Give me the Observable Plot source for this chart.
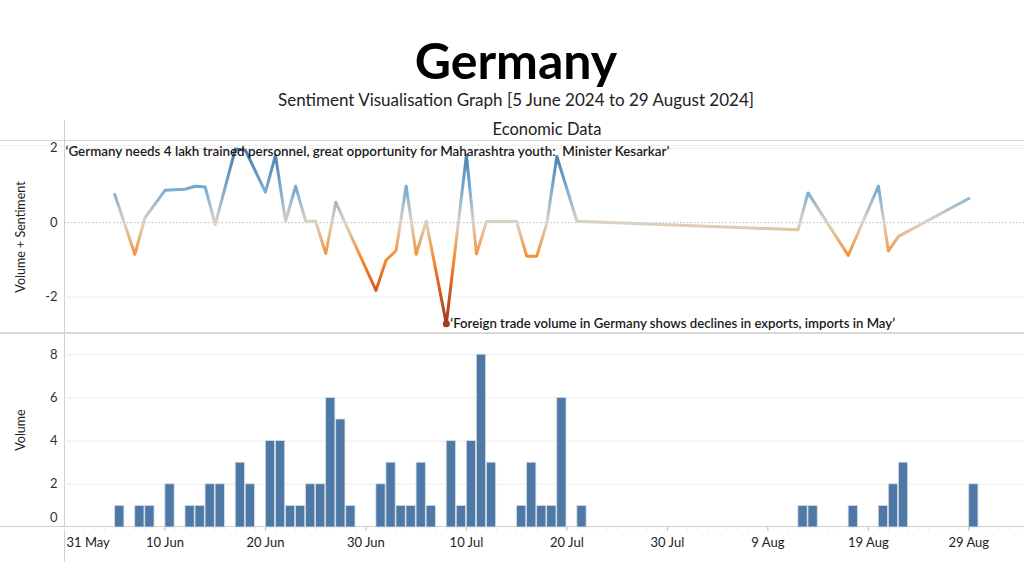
<!DOCTYPE html>
<html>
<head>
<meta charset="utf-8">
<script src="https://cdn.jsdelivr.net/npm/d3@7"></script>
<script src="https://cdn.jsdelivr.net/npm/@observablehq/plot@0.6"></script>
<style>
  html, body { margin: 0; padding: 0; background: #fff; }
  #root { position: relative; width: 1024px; height: 562px; overflow: hidden; font-family: Lato, "Noto Sans", sans-serif; color: #000; }
  .abs { position: absolute; }
  #title { left: 8px; width: 1016px; top: 30px; text-align: center; font-size: 50px; font-weight: 700; line-height: 60px; }
  #subtitle { left: 8px; width: 1016px; top: 90px; text-align: center; font-size: 17px; line-height: 20px; color: #222; }
  #header { left: 67px; width: 960px; top: 120px; text-align: center; font-size: 16.5px; line-height: 19px; color: #222; }
  .hline { position: absolute; left: 0; width: 1024px; background: #d9d9d9; }
  .vline { position: absolute; width: 1px; background: #d0d0d0; }
  .ylab { position: absolute; font-size: 12.5px; color: #222; white-space: nowrap; transform: translate(-50%, -50%) rotate(-90deg); }
  #topchart { left: 0; top: 140px; }
  #botchart { left: 0; top: 333px; }
  #topchart text.note { white-space: pre; }
</style>
</head>
<body>
<div id="root">
  <div id="title" class="abs">Germany</div>
  <div id="subtitle" class="abs">Sentiment Visualisation Graph [5 June 2024 to 29 August 2024]</div>
  <div id="header" class="abs">Economic Data</div>
  <div class="hline" style="top:140px;height:1px;"></div>
  <div class="hline" style="top:145px;height:1px;background:#f1f1f1;"></div>
  <div class="hline" style="top:332px;height:2px;"></div>
  <div class="hline" style="top:526px;height:1px;background:#cfcfcf;"></div>
  <div class="vline" style="left:64px;top:120px;height:442px;"></div>
  <div class="ylab" style="left:20px;top:237px;">Volume + Sentiment</div>
  <div class="ylab" style="left:20px;top:430px;">Volume</div>
  <div id="topchart" class="abs"></div>
  <div id="botchart" class="abs"></div>
</div>
<script>
// ---------------- data ----------------
const days = ["2024-06-05","2024-06-07","2024-06-08","2024-06-10","2024-06-12","2024-06-13","2024-06-14","2024-06-15",
  "2024-06-17","2024-06-18","2024-06-20","2024-06-21","2024-06-22","2024-06-23","2024-06-24","2024-06-25",
  "2024-06-26","2024-06-27","2024-06-28","2024-07-01","2024-07-02","2024-07-03","2024-07-04","2024-07-05",
  "2024-07-06","2024-07-08","2024-07-09","2024-07-10","2024-07-11","2024-07-12","2024-07-15","2024-07-16",
  "2024-07-17","2024-07-18","2024-07-19","2024-07-21","2024-08-12","2024-08-13","2024-08-17","2024-08-20",
  "2024-08-21","2024-08-22","2024-08-29"];
const volume = [1,1,1,2,1,1,2,2,
  3,2,4,4,1,1,2,2,
  6,5,1,2,3,1,1,3,
  1,4,1,4,8,3,1,3,
  1,1,6,1,1,1,1,1,
  2,3,2];
const sentiment = [0.76,-0.85,0.13,0.87,0.90,0.98,0.96,-0.05,
  1.98,1.95,0.82,1.81,0.03,0.98,0.04,0.04,
  -0.83,0.55,-0.05,-1.82,-1.01,-0.75,0.98,-0.85,
  0.04,-2.72,-0.45,1.81,-0.84,0.03,0.03,-0.90,
  -0.90,-0.02,1.78,0.04,-0.19,0.80,-0.88,0.98,
  -0.76,-0.37,0.65];
const xTickDays = ["2024-05-31","2024-06-10","2024-06-20","2024-06-30","2024-07-10","2024-07-20","2024-07-30","2024-08-09","2024-08-19","2024-08-29"];
const sentimentTicks = [-2, 0, 2];
const volumeTicks = [0, 2, 4, 6, 8];
const divergingColors = ["#9e3d22","#d45b21","#f69035","#dcd2c4","#77acd3","#4f81af","#2b5c8a"];
const divergingExtent = 2.7;
const noteTop = "\u2018Germany needs 4 lakh trained personnel, great opportunity for Maharashtra youth:  Minister Kesarkar\u2019";
const noteLow = "\u2018Foreign trade volume in Germany shows declines in exports, imports in May\u2019";
const noteLowDay = "2024-07-08";

// ---------------- build ----------------
const utc = s => new Date(s + "T00:00:00Z");
const rows = days.map((d, i) => ({
  date: utc(d),
  next: new Date(utc(d).getTime() + 864e5),
  volume: volume[i],
  sentiment: sentiment[i]
}));
const lowRow = rows.filter(r => r.date.getTime() === utc(noteLowDay).getTime());
const xDomain = [utc("2024-05-31"), new Date(utc("2024-09-03").getTime() + 13 * 3600e3)];
const xTicks = xTickDays.map(utc);
const minorTicks = d3.utcDay.range(xDomain[0], xDomain[1]);
const fmt = d3.utcFormat("%-d %b");
const numFmt = d => String(d);

const W = 1024;
const topH = 193;
const topDomain = [-2.98, 2.21];
const font = "Lato, 'Noto Sans', sans-serif";

const topPlot = Plot.plot({
  width: W, height: topH,
  marginLeft: 64, marginRight: 0, marginTop: 0, marginBottom: 0,
  x: { type: "utc", domain: xDomain, axis: null },
  y: { domain: topDomain, axis: null },
  style: { fontFamily: font, fontSize: "13px", color: "#333", background: "transparent", overflow: "visible" },
  marks: [
    Plot.ruleY([-2, 2], { stroke: "#ececec" }),
    Plot.ruleY([0], { stroke: "#b8b8b8", strokeDasharray: "1.5,2" }),
    Plot.axisY(sentimentTicks, { tickSize: 0, tickPadding: 7, label: null, fill: "#333", tickFormat: numFmt }),
    Plot.line(rows, { x: "date", y: "sentiment", stroke: "#888", strokeWidth: 3, strokeLinejoin: "round", strokeLinecap: "round" }),
    Plot.dot(lowRow, { x: "date", y: "sentiment", r: 3.5, fill: divergingColors[0], stroke: "none" }),
    Plot.text([noteTop], { frameAnchor: "top-left", text: d => d, dx: 1, dy: 11, lineAnchor: "middle", textAnchor: "start", fontSize: 13.4, fontWeight: 600, fill: "#1a1a1a" }),
    Plot.text(lowRow, { x: "date", y: "sentiment", text: () => noteLow, dx: 4, textAnchor: "start", lineAnchor: "middle", fontSize: 13.2, fontWeight: 600, fill: "#1a1a1a" })
  ]
});

// gradient along the value axis (colour by sentiment)
(function addGradient(svg) {
  const ns = "http://www.w3.org/2000/svg";
  const yPix = v => (topDomain[1] - v) / (topDomain[1] - topDomain[0]) * topH;
  const defs = document.createElementNS(ns, "defs");
  const lg = document.createElementNS(ns, "linearGradient");
  lg.setAttribute("id", "sentGrad");
  lg.setAttribute("gradientUnits", "userSpaceOnUse");
  lg.setAttribute("x1", 0); lg.setAttribute("x2", 0);
  lg.setAttribute("y1", yPix(divergingExtent));
  lg.setAttribute("y2", yPix(-divergingExtent));
  const stops = divergingColors.slice().reverse();
  stops.forEach((c, i) => {
    const s = document.createElementNS(ns, "stop");
    s.setAttribute("offset", (i / (stops.length - 1)).toFixed(4));
    s.setAttribute("stop-color", c);
    lg.appendChild(s);
  });
  defs.appendChild(lg);
  svg.insertBefore(defs, svg.firstChild);
  svg.querySelectorAll('g[aria-label="line"] path').forEach(p => p.setAttribute("stroke", "url(#sentGrad)"));
  svg.querySelectorAll('g[aria-label="text"] text').forEach(t => t.setAttribute("class", "note"));
})(topPlot);
document.getElementById("topchart").appendChild(topPlot);

const botH = 229;
const botPlot = Plot.plot({
  width: W, height: botH,
  marginLeft: 64, marginRight: 0, marginTop: 0, marginBottom: 35,
  x: { type: "utc", domain: xDomain, axis: null },
  y: { domain: [0, 8.98], axis: null },
  style: { fontFamily: font, fontSize: "13px", color: "#333", background: "transparent", overflow: "visible" },
  marks: [
    Plot.ruleY([2, 4, 6, 8], { stroke: "#ececec" }),
    Plot.rectY(rows, { x1: "date", x2: "next", y: "volume", fill: "#4e79a7", stroke: "#d5dce6", strokeWidth: 0.8, insetLeft: 0.4, insetRight: 0.4 }),
    Plot.axisY(volumeTicks.filter(t => t !== 0), { tickSize: 0, tickPadding: 7, label: null, fill: "#333", tickFormat: numFmt }),
    Plot.axisY(volumeTicks.filter(t => t === 0), { tickSize: 0, tickPadding: 7, label: null, dy: -10, fill: "#333", tickFormat: numFmt }),
    Plot.axisX(minorTicks, { tickSize: 3, stroke: "#ebebeb", tickFormat: () => "", label: null }),
    Plot.axisX(xTicks.slice(1), { tickSize: 4, tickPadding: 6, stroke: "#c4c4c4", tickFormat: fmt, label: null, fill: "#222" }),
    Plot.axisX(xTicks.slice(0, 1), { tickSize: 0, tickPadding: 10, tickFormat: fmt, label: null, textAnchor: "start", dx: 2, fill: "#222" })
  ]
});
document.getElementById("botchart").appendChild(botPlot);
</script>
</body>
</html>
